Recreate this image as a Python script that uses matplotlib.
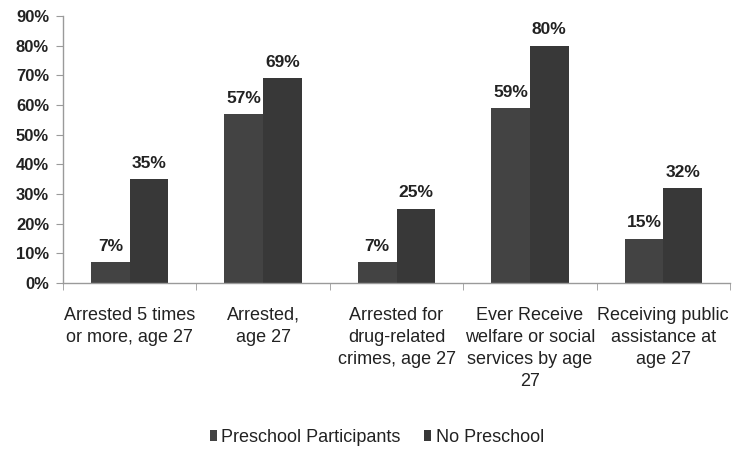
import matplotlib
matplotlib.use("Agg")
import matplotlib.pyplot as plt
from matplotlib.patches import Patch
import numpy as np

plt.rcParams['font.family'] = ['Liberation Sans', 'DejaVu Sans']

categories = [
    "Arrested 5 times\nor more, age 27",
    "Arrested,\nage 27",
    "Arrested for\ndrug-related\ncrimes, age 27",
    "Ever Receive\nwelfare or social\nservices by age\n27",
    "Receiving public\nassistance at\nage 27",
]
preschool = [7, 57, 7, 59, 15]
no_preschool = [35, 69, 25, 80, 32]
series_names = ["Preschool Participants", "No Preschool"]
yticks = [0, 10, 20, 30, 40, 50, 60, 70, 80, 90]

c_pre = "#434343"
c_no = "#383838"
text_c = "#222222"
axis_c = "#9a9a9a"

fig = plt.figure(figsize=(7.32, 4.49), dpi=100)
ax = fig.add_axes([63 / 732, 1 - 283 / 449, 667 / 732, 267 / 449])

x = np.arange(len(categories))
w = 0.29
b1 = ax.bar(x - w / 2, preschool, w, color=c_pre, edgecolor="none")
b2 = ax.bar(x + w / 2, no_preschool, w, color=c_no, edgecolor="none")

for bars, vals in ((b1, preschool), (b2, no_preschool)):
    for r, v in zip(bars, vals):
        ax.annotate(f"{v}%", (r.get_x() + r.get_width() / 2, v),
                    xytext=(0, 6), textcoords="offset points",
                    ha="center", va="bottom", fontsize=12.5,
                    fontweight="bold", color=text_c)

ax.set_xlim(-0.5, len(categories) - 0.5)
ax.set_ylim(0, 90)
ax.set_yticks(yticks)
ax.set_yticklabels([f"{t}%" for t in yticks], fontsize=12,
                   fontweight="bold", color=text_c)

# category labels centred between boundary ticks
ax.set_xticks(x)
ax.set_xticklabels(categories, fontsize=13, color=text_c, linespacing=1.4)
ax.tick_params(axis="x", length=0, pad=17)
ax.set_xticks(np.arange(-0.5, len(categories)), minor=True)
ax.tick_params(axis="x", which="minor", length=5, color=axis_c, direction="out")
ax.tick_params(axis="y", length=5, color=axis_c, direction="out", pad=5)

for s in ("top", "right"):
    ax.spines[s].set_visible(False)
for s in ("left", "bottom"):
    ax.spines[s].set_color(axis_c)
    ax.spines[s].set_linewidth(1)

handles = [Patch(facecolor=c_pre, label=series_names[0]),
           Patch(facecolor=c_no, label=series_names[1])]
leg = fig.legend(handles=handles, loc="center", bbox_to_anchor=(377 / 732, 1 - 437 / 449),
                 ncol=2, frameon=False, fontsize=13, handlelength=0.38, handleheight=0.55,
                 handletextpad=0.25, columnspacing=1.3)
for t in leg.get_texts():
    t.set_color(text_c)

fig.savefig("out.png", dpi=100)
